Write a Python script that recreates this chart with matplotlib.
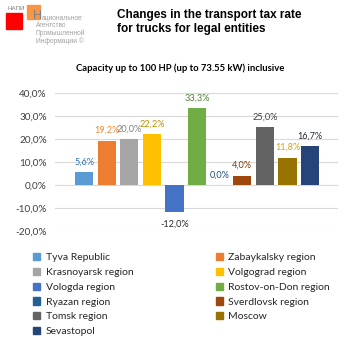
import matplotlib
matplotlib.use("Agg")
import matplotlib.pyplot as plt
from matplotlib.patches import Patch, Rectangle
import numpy as np

regions = ["Tyva Republic", "Zabaykalsky region", "Krasnoyarsk region", "Volgograd region",
           "Vologda region", "Rostov-on-Don region", "Ryazan region", "Sverdlovsk region",
           "Tomsk region", "Moscow", "Sevastopol"]
values = [5.6, 19.2, 20.0, 22.2, -12.0, 33.3, 0.0, 4.0, 25.0, 11.8, 16.7]
bar_colors = ["#5B9BD5", "#ED7D31", "#A5A5A5", "#FFC000", "#4472C4", "#70AD47",
              "#255E91", "#9E480E", "#636363", "#997300", "#264478"]
label_colors = ["#2E75B6", "#F4862F", "#7F7F7F", "#BF9000", "#262626", "#548235",
                "#1F4E79", "#843C0C", "#404040", "#D4A017", "#222A35"]
yticks = [-20, -10, 0, 10, 20, 30, 40]

plt.rcParams['font.family'] = ['Lato', 'DejaVu Sans']

fig = plt.figure(figsize=(3.53, 3.53), dpi=100)
ax = fig.add_axes([0.156, 0.346, 0.802, 0.391])

x = np.arange(len(values))
ax.bar(x, values, width=0.8, color=bar_colors, zorder=2)
for xi, v, c in zip(x, values, label_colors):
    txt = f"{v:.1f}%".replace('.', ',')
    if v < 0:
        ax.annotate(txt, (xi, v), xytext=(0, -5), textcoords='offset points',
                    ha='center', va='top', fontsize=6.6, color=c)
    else:
        ax.annotate(txt, (xi, v), xytext=(0, 4), textcoords='offset points',
                    ha='center', va='bottom', fontsize=6.6, color=c)

ax.set_xlim(-1.28, 11.24)
ax.set_ylim(-20, 40)
ax.set_yticks(yticks)
ax.set_yticklabels([f"{t:.1f}%".replace('.', ',') for t in yticks], fontsize=7.2, color="#404040")
ax.set_xticks([])
ax.tick_params(axis='y', length=0, pad=6)
ax.grid(axis='y', color="#D9D9D9", linewidth=0.8, zorder=0)
for s in ax.spines.values():
    s.set_visible(False)

# legend, filled row by row like the original
order = [0, 2, 4, 6, 8, 10, 1, 3, 5, 7, 9]
handles = [Patch(color=bar_colors[i]) for i in order]
labels = [regions[i] for i in order]
fig.legend(handles, labels, ncol=2, loc='upper left', bbox_to_anchor=(0.094, 0.283),
           frameon=False, fontsize=7.5, handlelength=0.7, handleheight=0.7,
           handletextpad=0.5, labelspacing=0.52, columnspacing=7.9,
           borderpad=0, borderaxespad=0, labelcolor="#262626")

# titles
fig.text(0.331, 0.938, "Changes in the transport tax rate\nfor trucks for legal entities",
         ha='left', va='center', fontsize=8.5, fontweight='bold', family='Liberation Sans',
         linespacing=1.25)
fig.text(0.51, 0.807, "Capacity up to 100 HP (up to 73.55 kW) inclusive",
         ha='center', va='center', fontsize=6.8, fontweight='bold')

# logo
fig.patches.append(Rectangle((6/353, 1-29/353), 16/353, 16/353, color="#FF0000",
                             transform=fig.transFigure, figure=fig))
fig.patches.append(Rectangle((27/353, 1-19/353), 13/353, 14/353, color="#F79646",
                             transform=fig.transFigure, figure=fig))
fig.text(7/353, 1-8/353, "НАПИ", fontsize=4.5, color="#808080", va='center', ha='left',
         family='Liberation Sans')
fig.text(33/353, 1-16/353, "Н", fontsize=9, color="#808080", va='center', ha='left',
         family='Liberation Sans')
fig.text(41.5/353, 1-18/353, "ациональное", fontsize=4.8, color="#A0A0A0", va='center',
         ha='left', family='Liberation Sans')
for i, line in enumerate(["Агентство", "Промышленной", "Информации ©"]):
    fig.text(36/353, 1-(25.5+8*i)/353, line, fontsize=4.8, color="#A0A0A0", va='center',
             ha='left', family='Liberation Sans')

fig.savefig("out.png", dpi=100)
